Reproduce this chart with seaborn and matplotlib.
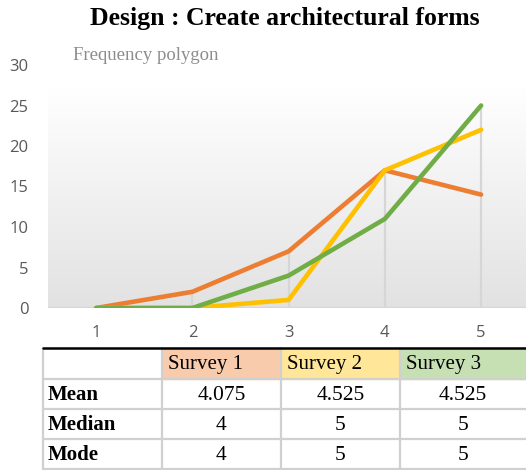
import seaborn as sns
import matplotlib.pyplot as plt
import matplotlib.patches as mpatches
import numpy as np
import pandas as pd

# data
ratings = [1, 2, 3, 4, 5]
survey_1 = [0, 2, 7, 17, 14]
survey_2 = [0, 0, 1, 17, 22]
survey_3 = [0, 0, 4, 11, 25]
survey_names = ['Survey 1', 'Survey 2', 'Survey 3']
y_ticks = [0, 5, 10, 15, 20, 25, 30]

# summary table
row_labels = ['Mean', 'Median', 'Mode']
mean_vals = ['4.075', '4.525', '4.525']
median_vals = ['4', '5', '5']
mode_vals = ['4', '5', '5']

line_colors = ['#ED7D31', '#FFC000', '#70AD47']
head_colors = ['#F8CBAD', '#FFE699', '#C6E0B4']

df = pd.DataFrame({
    'rating': ratings * 3,
    'count': survey_1 + survey_2 + survey_3,
    'survey': [s for s in survey_names for _ in ratings],
})

sns.set_style('white')
plt.rcParams['font.family'] = ['DejaVu Sans']
plt.rcParams['text.color'] = 'black'

W, H = 526, 470
fig = plt.figure(figsize=(W / 100, H / 100), dpi=100)

# main chart axes (pixel layout)
x0, x1, y0, y1 = 48, 526, 308, 65
ax = fig.add_axes([x0 / W, (H - y0) / H, (x1 - x0) / W, (y0 - y1) / H])
ax.set_xlim(0.5, 0.5 + (x1 - x0) / 96.25)
ax.set_ylim(0, 30)

# gradient plot-area background
grad = np.linspace(0, 1, 256).reshape(-1, 1)
cmap = plt.matplotlib.colors.LinearSegmentedColormap.from_list('g', ['#FFFFFF', '#E2E2E2'])
ax.imshow(grad, cmap=cmap, extent=(0.5, ax.get_xlim()[1], 0, 27.2), aspect='auto', zorder=0)

# drop lines
tops = np.max(np.array([survey_1, survey_2, survey_3]), axis=0)
ax.vlines(ratings, 0, tops, colors='#D6D6D6', linewidth=1.6, zorder=1)
ax.axhline(0, color='#D6D6D6', linewidth=1.6, zorder=1)

sns.lineplot(data=df, x='rating', y='count', hue='survey', palette=line_colors,
             linewidth=3.3, legend=False, ax=ax, zorder=3,
             solid_capstyle='round', solid_joinstyle='round')

for s in ax.spines.values():
    s.set_visible(False)
ax.set_xticks(ratings)
ax.set_yticks(y_ticks)
ax.tick_params(length=0, labelsize=12, labelcolor='#595959')
ax.tick_params(axis='y', pad=14)
ax.tick_params(axis='x', pad=12)
for lab in ax.get_xticklabels() + ax.get_yticklabels():
    lab.set_family('Open Sans')
ax.set_xlabel('')
ax.set_ylabel('')

fig.text(73 / W, 1 - 55 / H, 'Frequency polygon', family='Liberation Serif',
         fontsize=13.5, color='#8C8C8C', va='center', ha='left')

fig.text(285 / W, 1 - 19 / H, 'Design : Create architectural forms', family='Liberation Serif',
         fontweight='bold', fontsize=18.5, color='black', ha='center', va='center')

# table drawn in pixel coords
tab = fig.add_axes([0, 0, 1, 1])
tab.set_xlim(0, W)
tab.set_ylim(H, 0)
tab.axis('off')
col_x = [43, 162, 281, 400, 540]
row_y = [348, 379, 409, 439, 469]
for j in range(3):
    tab.add_patch(mpatches.Rectangle((col_x[j + 1], row_y[0]), col_x[j + 2] - col_x[j + 1],
                                     row_y[1] - row_y[0], color=head_colors[j], zorder=0))
for y in row_y[1:]:
    tab.plot([col_x[0], W], [y, y], color='#D0D0D0', linewidth=1.6)
for x in col_x[:-1]:
    tab.plot([x, x], [row_y[0], H], color='#D0D0D0', linewidth=1.6)
tab.plot([col_x[0], W], [row_y[0], row_y[0]], color='black', linewidth=1.8)

for j, name in enumerate(survey_names):
    tab.text(col_x[j + 1] + 6, (row_y[0] + row_y[1]) / 2 + 1, name, family='Liberation Serif',
             fontsize=15, color='black', ha='left', va='center')
rows = [mean_vals, median_vals, mode_vals]
for i, (label, vals) in enumerate(zip(row_labels, rows)):
    yc = (row_y[i + 1] + row_y[i + 2]) / 2 + 1
    tab.text(col_x[0] + 5, yc, label, family='Liberation Serif', fontsize=15,
             fontweight='bold', color='black', ha='left', va='center')
    for j, v in enumerate(vals):
        right = col_x[j + 2] if j < 2 else 526
        tab.text((col_x[j + 1] + right) / 2, yc, v, family='Liberation Serif',
                 fontsize=15.5, color='black', ha='center', va='center')

fig.savefig('out.png', dpi=100)
